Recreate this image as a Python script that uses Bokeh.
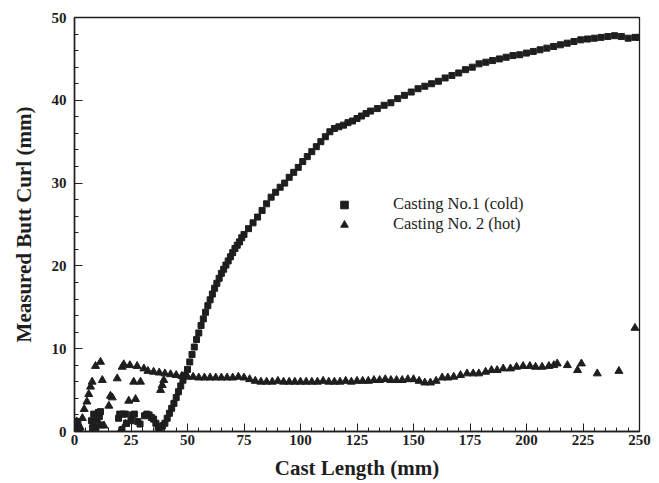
from bokeh.plotting import figure
from bokeh.models import Range1d, FixedTicker, Legend, LegendItem
from bokeh.embed import file_html
from bokeh.resources import INLINE

# Casting No.1 (cold) - squares
cold_x = [0, 0.5, 1, 1.5, 2, 7.5, 8, 8.5, 9.5, 10, 10.5, 11, 11.5, 12,
          19.5, 20, 21, 21.5, 22.5, 23, 25, 25.5, 26.5, 28, 29, 31, 32, 33, 34, 35, 36,
          37, 38, 39, 40, 41, 42, 43, 44, 45, 46, 47, 48, 49, 50, 51, 52, 53, 54, 55,
          56, 57, 58, 59, 60, 61, 62, 63, 64, 65, 66, 67, 68, 69, 70, 71, 72, 73, 74, 75,
          77, 79, 81, 83, 85, 87, 89, 91, 93, 95, 97, 99, 101, 103, 105, 107, 109, 111,
          113, 115, 117, 119, 121, 123, 125, 127, 129, 131,
          134, 137, 140, 143, 146, 149, 152, 155, 158, 161, 164, 167, 170, 173, 176, 179,
          182, 185, 188, 191, 194, 197, 200, 203, 206, 209, 212, 215, 218, 221, 224, 227,
          230, 233, 236, 239, 242, 245, 248, 250]
cold_y = [0.3, 1.0, 0.5, 1.2, 0.2, 1.3, 0.4, 2.1, 0.5, 1.3, 2.3, 1.8, 2.4, 0.8,
          1.6, 2.1, 0.2, 2.1, 2.1, 1.0, 1.3, 2.0, 2.1, 1.2, 0.9, 1.9, 2.1, 2.0, 1.7, 1.5, 1.0,
          0.5, 0.5, 0.7, 1.0, 1.6, 2.2, 2.8, 3.4, 4.1, 4.8, 5.5, 6.2, 6.8, 7.5, 8.4, 9.3, 10.2, 11.1, 11.9,
          12.8, 13.6, 14.4, 15.2, 15.9, 16.6, 17.3, 17.9, 18.5, 19.1, 19.6, 20.1, 20.6, 21.1, 21.6, 22.1, 22.5, 22.9, 23.4, 23.8,
          24.5, 25.2, 25.9, 26.7, 27.5, 28.3, 28.9, 29.5, 30.0, 30.7, 31.3, 31.9, 32.6, 33.2, 33.8, 34.4, 35.0, 35.6,
          36.2, 36.6, 36.8, 37.0, 37.3, 37.5, 37.8, 38.1, 38.4, 38.7,
          39.0, 39.4, 39.7, 40.2, 40.6, 41.0, 41.4, 41.7, 42.0, 42.3, 42.7, 43.0, 43.3, 43.7, 44.0, 44.4,
          44.6, 44.8, 45.0, 45.2, 45.4, 45.5, 45.7, 45.9, 46.1, 46.3, 46.5, 46.7, 46.9, 47.1, 47.3, 47.4,
          47.5, 47.6, 47.7, 47.8, 47.7, 47.5, 47.6, 47.6]

# Casting No. 2 (hot) - triangles
hot_x = [0.5, 1.0, 1.5, 2.0, 2.5, 3.5, 4.3, 5.5, 6.3, 7.1, 7.8, 8.2, 9.3, 11.5, 12.3, 13.0,
         15.2, 15.9, 16.7, 18.9, 20.4, 21.1, 21.8, 22.6, 24.0, 24.5, 26.2, 27.0, 27.7, 29.2,
         30.7, 38.1, 38.8, 39.5,
         32.5, 35, 37.5, 40, 42.5, 45, 47.5, 50, 52.5, 55, 57.5, 60, 62.5, 65, 67.5, 70, 72.5, 75,
         77.5, 80, 82.5, 85, 87.5, 90, 92.5, 95, 97.5, 100, 102.5, 105, 107.5, 110, 112.5, 115,
         117.5, 120, 122.5, 125, 127.5, 130, 132.5, 135, 137.5, 140, 142.5, 145, 147.5, 150,
         152.5, 155, 157.5, 160, 162.7, 165.2, 167.8, 170.8, 173.7, 176.4, 178.9, 181.9, 184.5,
         187.0, 189.7, 192.9, 195.6, 198.5, 201.5, 204.0, 206.9, 209.9, 212.1, 213.6, 218.1,
         222.6, 224.3, 231.3, 240.9, 248.0]
hot_y = [0.3, 1.2, 1.0, 0.4, 0.5, 1.6, 2.7, 3.6, 4.5, 5.4, 6.0, 0.9, 7.9, 8.4, 6.2, 0.7,
         3.1, 4.3, 4.1, 6.4, 0.1, 7.8, 8.1, 0.9, 3.7, 8.0, 6.0, 3.9, 7.9, 6.0,
         7.6, 5.0, 5.6, 6.2,
         7.3, 7.2, 7.1, 7.0, 6.9, 6.8, 6.7, 6.6, 6.6, 6.5, 6.5, 6.5, 6.5, 6.5, 6.5, 6.5, 6.6, 6.5,
         6.3, 6.1, 6.0, 6.0, 6.0, 6.1, 6.0, 6.0, 6.0, 6.0, 6.0, 6.0, 6.0, 6.1, 6.0, 6.0,
         6.0, 6.1, 6.0, 6.1, 6.1, 6.1, 6.2, 6.2, 6.3, 6.2, 6.2, 6.2, 6.3, 6.3,
         6.1, 5.9, 5.9, 6.1, 6.5, 6.5, 6.6, 6.8, 7.0, 7.0, 7.0, 7.2, 7.4,
         7.4, 7.6, 7.6, 7.8, 7.9, 7.9, 7.8, 7.8, 7.9, 8.0, 8.2, 8.0,
         7.4, 8.2, 7.0, 7.3, 12.5]

x_ticks = [0, 25, 50, 75, 100, 125, 150, 175, 200, 225, 250]
x_minor = [5, 10, 15, 20, 30, 35, 40, 45, 55, 60, 65, 70, 80, 85, 90, 95, 105, 110, 115, 120,
           130, 135, 140, 145, 155, 160, 165, 170, 180, 185, 190, 195, 205, 210, 215, 220,
           230, 235, 240, 245]
y_ticks = [0, 10, 20, 30, 40, 50]
y_minor = [2, 4, 6, 8, 12, 14, 16, 18, 22, 24, 26, 28, 32, 34, 36, 38, 42, 44, 46, 48]

FONT = "Liberation Serif"
INK = "#1e1e1e"

p = figure(width=659, height=483, output_backend="svg", toolbar_location=None,
           x_range=Range1d(0, 250), y_range=Range1d(0, 50),
           min_border_left=74, min_border_right=20, min_border_top=17, min_border_bottom=52)
p.xgrid.visible = False
p.ygrid.visible = False
p.outline_line_color = INK
p.outline_line_width = 1.3

p.xaxis.ticker = FixedTicker(ticks=x_ticks, minor_ticks=x_minor)
p.yaxis.ticker = FixedTicker(ticks=y_ticks, minor_ticks=y_minor)
for ax in (p.xaxis, p.yaxis):
    ax.axis_line_color = INK
    ax.axis_line_width = 1.5
    ax.major_tick_in = 8
    ax.major_tick_out = 0
    ax.minor_tick_in = 4
    ax.minor_tick_out = 0
    ax.major_tick_line_color = INK
    ax.minor_tick_line_color = INK
    ax.major_label_text_font = FONT
    ax.major_label_text_font_style = "bold"
    ax.major_label_text_font_size = "15px"
    ax.major_label_text_color = INK
    ax.axis_label_text_font = FONT
    ax.axis_label_text_font_style = "bold"
    ax.axis_label_text_font_size = "21px"
    ax.axis_label_text_color = INK
p.xaxis.axis_label = "Cast Length (mm)"
p.yaxis.axis_label = "Measured Butt Curl (mm)"
p.xaxis.major_label_standoff = 3
p.xaxis.axis_label_standoff = 8
p.yaxis.major_label_standoff = 8
p.yaxis.axis_label_standoff = 13

r_cold = p.scatter(cold_x, cold_y, marker="square", size=6, fill_color=INK, line_color=INK)
r_hot = p.scatter(hot_x, hot_y, marker="triangle", size=8, fill_color=INK, line_color=INK)

legend = Legend(items=[LegendItem(label="Casting No.1 (cold)", renderers=[r_cold]),
                       LegendItem(label="Casting No. 2 (hot)", renderers=[r_hot])],
                location=(260, 197), orientation="vertical",
                glyph_width=20, glyph_height=19, label_height=19, label_standoff=39,
                spacing=0, padding=0, margin=0,
                border_line_color=None, background_fill_alpha=0,
                label_text_font=FONT, label_text_font_size="16.5px", label_text_color=INK)
p.add_layout(legend)

open("out.html", "w").write(file_html(p, INLINE))
